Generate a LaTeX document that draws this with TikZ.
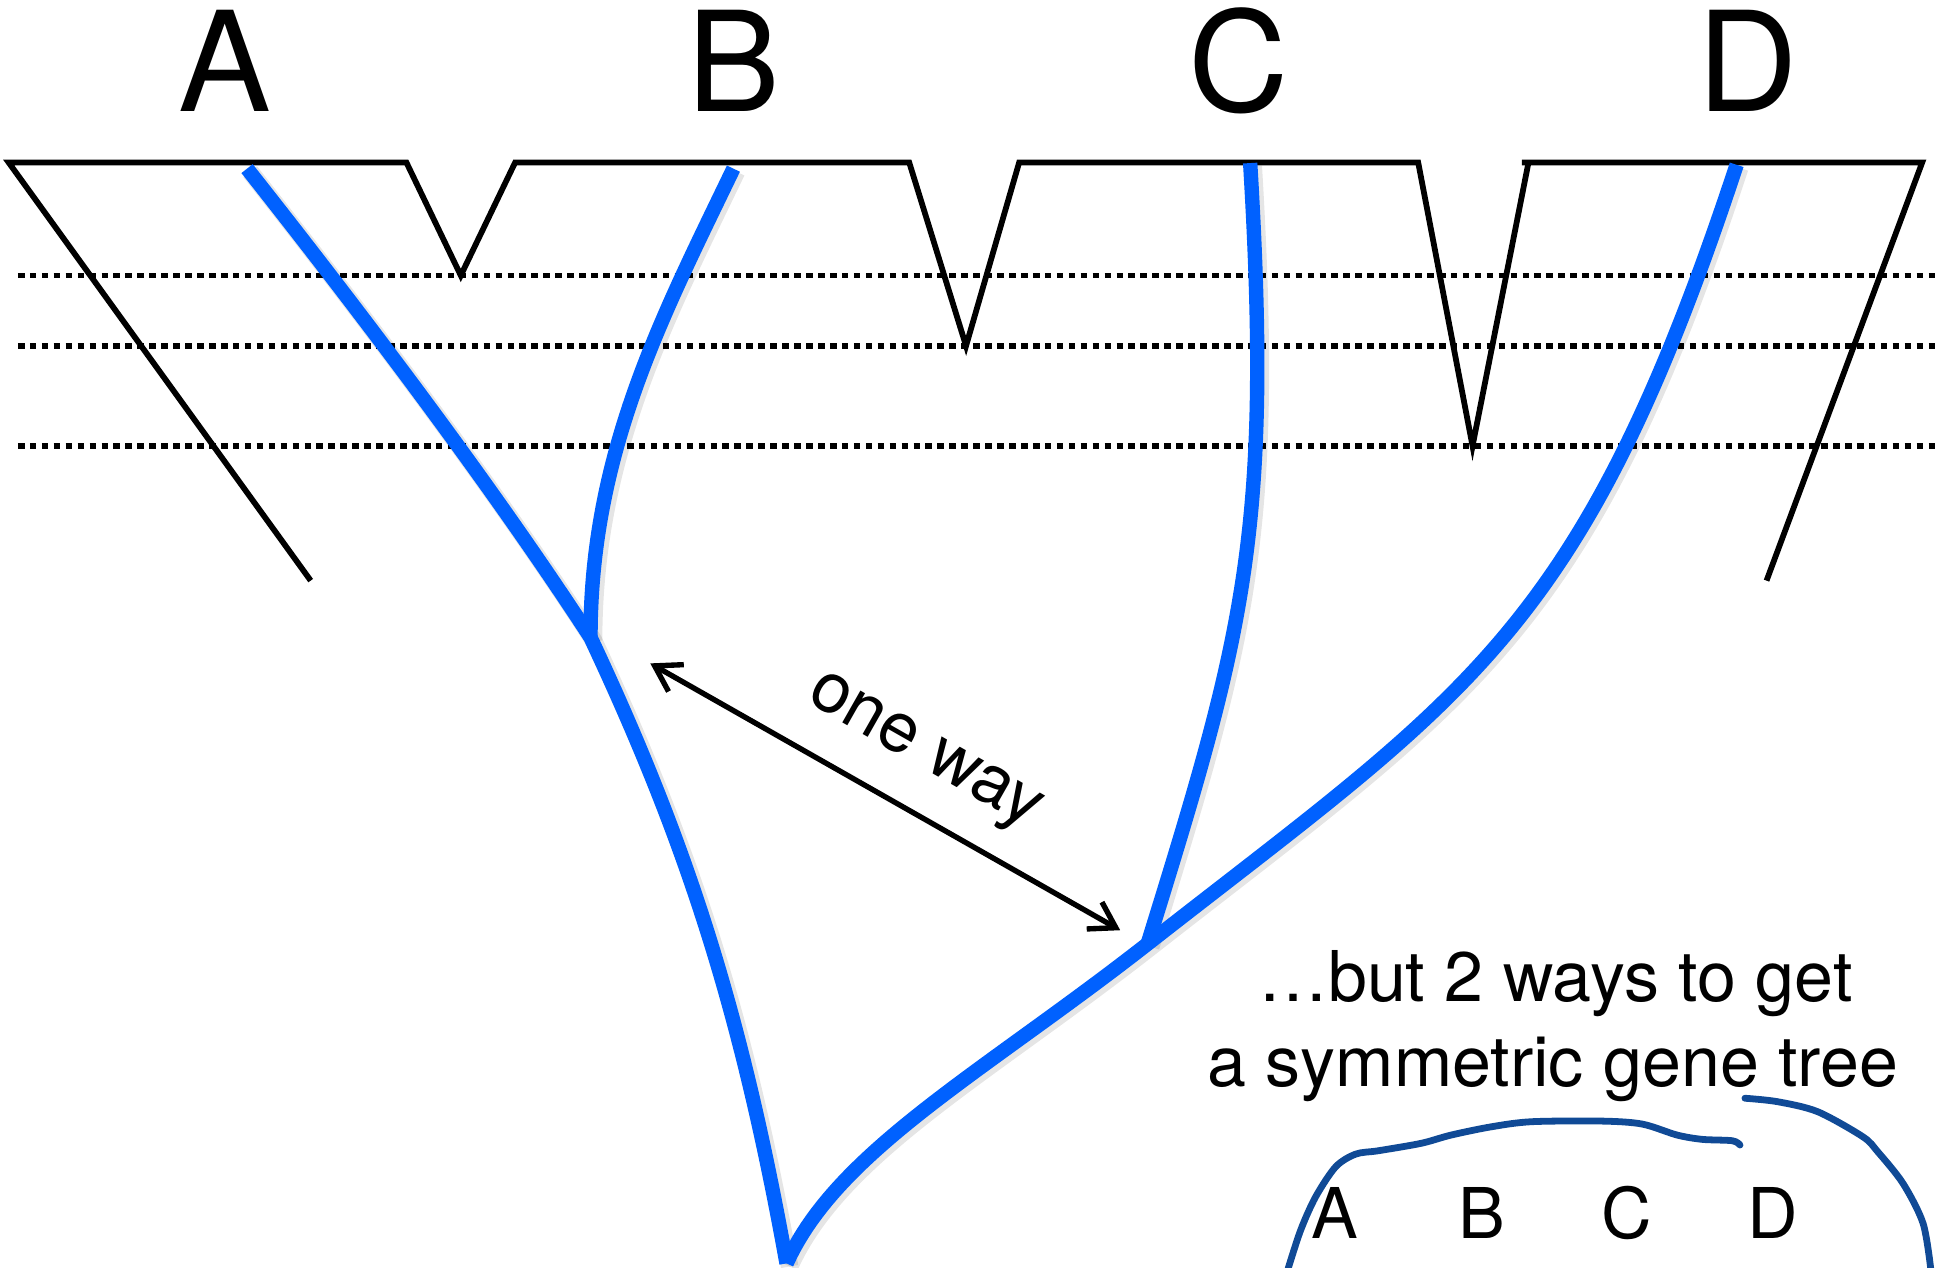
\documentclass[tikz,border=0pt]{standalone}
\usepackage{fontspec}
\setmainfont{TeX Gyre Heros}
\usetikzlibrary{arrows.meta}
\definecolor{gblue}{RGB}{0,97,255}
\definecolor{hblue}{RGB}{16,74,150}
\tikzset{
  sp/.style={line width=2.8pt, black},
  dotline/.style={line width=2.8pt, dash pattern=on 3.2pt off 2.6pt},
  bl/.style={line width=7pt, draw=gblue},
  arr/.style={line width=2.6pt, {Straight Barb[length=12pt,width=15pt]}-{Straight Barb[length=12pt,width=15pt]}},
  hand/.style={line width=3.3pt, draw=hblue, line cap=round},
  big/.style={font=\fontsize{67.5pt}{80pt}\selectfont, inner sep=0pt, anchor=base},
  txt/.style={font=\fontsize{34pt}{40pt}\selectfont, inner sep=0pt, anchor=base},
}
\newcommand{\gtpaths}{%
  \draw[bl] (tipA) .. controls (294.8,256.5) and (400,396) .. (jAB)
                   .. controls (557.9,686) and (600.7,822.7) .. (root);
  \draw[bl] (tipB) .. controls (536,256.5) and (478,366) .. (jAB);
  \draw[bl] (tipC) .. controls (1030,432) and (1006.5,514) .. (jCD);
  \draw[bl] (tipD) .. controls (1280.4,513.4) and (1188.7,560.7) .. (jCD)
                   .. controls (795.2,868.7) and (677.7,931.7) .. (root);
}
\begin{document}
\begin{tikzpicture}[x=0.6pt, y=-0.6pt]
\useasboundingbox (0,0) rectangle (1568,1026);
\clip (0,0) rectangle (1568,1026);
\fill[white] (0,0) rectangle (1568,1026);

% coordinates
\coordinate (tipA) at (200,136.5);
\coordinate (tipB) at (593.7,136.5);
\coordinate (tipC) at (1012,132);
\coordinate (tipD) at (1405.8,133.4);
\coordinate (jAB) at (478,516);
\coordinate (jCD) at (929,764);
\coordinate (root) at (636.7,1022.7);

% species tree outline
\coordinate (eL) at (251.5,470);
\coordinate (s0) at (7,131.5);
\coordinate (v1a) at (329,131.5);
\coordinate (v1) at (373,223);
\coordinate (v1b) at (417,131.5);
\coordinate (v2a) at (736,131.5);
\coordinate (v2) at (782,280);
\coordinate (v2b) at (825,131.5);
\coordinate (v3a) at (1148,131.5);
\coordinate (v3) at (1192,361);
\coordinate (v3b) at (1237,133);
\coordinate (s4) at (1232,131.5);
\coordinate (s5) at (1556,131.5);
\coordinate (eR) at (1430,470);

% dotted time lines
\coordinate (d1l) at (14.5,223); \coordinate (d1r) at (1568,223);
\coordinate (d2l) at (14.5,280); \coordinate (d2r) at (1568,280);
\coordinate (d3l) at (14.5,361); \coordinate (d3r) at (1568,361);
\draw[dotline] (d1l) -- (d1r);
\draw[dotline] (d2l) -- (d2r);
\draw[dotline] (d3l) -- (d3r);

\draw[sp] (eL) -- (s0) -- (v1a) -- (v1) -- (v1b) -- (v2a) -- (v2) -- (v2b) -- (v3a) -- (v3) -- (v3b);
\draw[sp] (s4) -- (s5) -- (eR);

% gene tree with soft shadow
\begin{scope}[transform canvas={shift={(1.5pt,-1.5pt)}}, bl/.style={line width=8.5pt, draw=black, opacity=0.10}]
\gtpaths
\end{scope}
\gtpaths

% labels
\node[big] (lA) at (182,90) {A};
\node[big] (lB) at (593.7,90) {B};
\node[big] (lC) at (1002.8,90) {C};
\node[big] (lD) at (1414.6,90) {D};

% arrow
\coordinate (ar1) at (526.4,537);
\coordinate (ar2) at (906.8,753);
\draw[arr] (ar1) -- (ar2);
\node[font=\fontsize{34pt}{40pt}\selectfont, inner sep=0pt, rotate=-29.6] (ow) at (747,611) {one way};

% text
\node[txt] (t1) at (1259,811) {…but 2 ways to get};
\node[txt] (t2) at (1257,879.7) {a symmetric gene tree};

\node[txt] (sA) at (1080.7,1002.5) {A};
\node[txt] (sB) at (1199.4,1002.5) {B};
\node[txt] (sC) at (1316.5,1002.5) {C};
\node[txt] (sD) at (1435,1002.5) {D};

% hand-drawn curves
\draw[hand] plot[smooth, tension=0.5] coordinates {(1042.7,1027) (1052.9,995.7) (1065,968.8) (1081.3,944.4) (1097.5,934.2) (1115.8,931.5) (1150.4,925.5) (1174.7,918.8) (1207.3,912.1) (1239.8,908) (1296.7,907.5) (1329.3,909.9) (1357.6,918.8) (1378,922.3) (1402.3,923.4) (1408.5,926.9)};
\draw[hand] plot[smooth, tension=0.5] coordinates {(1412.5,889) (1438.9,891.8) (1471.4,899.9) (1508,920.2) (1520,932.3) (1540.5,958) (1556.7,990.3) (1562.9,1027)};
\end{tikzpicture}
\end{document}
